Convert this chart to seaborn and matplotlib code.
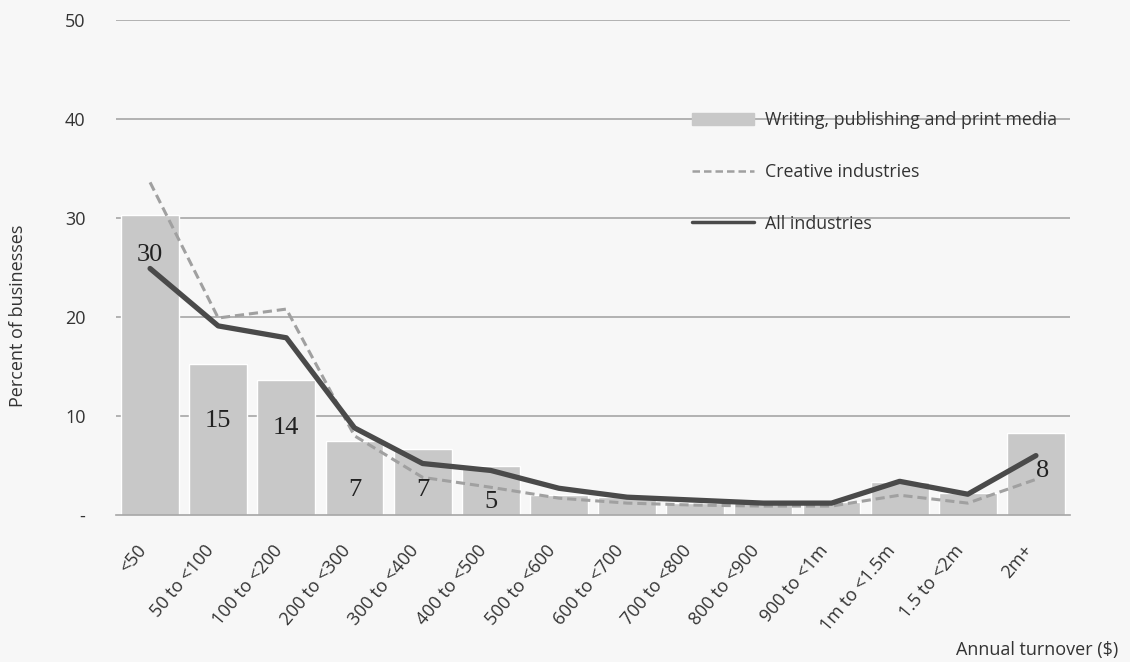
import matplotlib
matplotlib.use("Agg")
import matplotlib.pyplot as plt
import matplotlib.patches as mpatches
import matplotlib.lines as mlines
import matplotlib.transforms as mtransforms
import numpy as np
import pandas as pd
import seaborn as sns

#%% data
categories = ["<50", "50 to <100", "100 to <200", "200 to <300", "300 to <400",
              "400 to <500", "500 to <600", "600 to <700", "700 to <800",
              "800 to <900", "900 to <1m", "1m to <1.5m", "1.5 to <2m", "2m+"]
writing = [30.3, 15.3, 13.6, 7.5, 6.7, 4.9, 2.0, 1.8, 1.2, 1.2, 1.3, 3.3, 2.2, 8.3]
creative = [33.6, 19.9, 20.8, 8.0, 3.8, 2.8, 1.7, 1.2, 1.0, 0.9, 0.9, 2.0, 1.2, 3.6]
all_ind = [24.9, 19.1, 17.9, 8.8, 5.2, 4.5, 2.7, 1.8, 1.5, 1.2, 1.2, 3.4, 2.1, 6.0]

# data labels shown on the bars (index, text)
label_idx = [0, 1, 2, 3, 4, 5, 13]
label_txt = ["30", "15", "14", "7", "7", "5", "8"]
label_y = [26.3, 9.5, 8.8, 2.5, 2.5, 1.3, 4.4]
label_dx = [0, 0, 0, 0, 0, 0, 0.1]

df = pd.DataFrame({"cat": categories, "writing": writing,
                   "creative": creative, "all": all_ind})

#%% plot
sns.set_style("white")
plt.rcParams["font.family"] = ["Open Sans", "DejaVu Sans"]
bg = "#f7f7f7"
txt = "#333333"

fig = plt.figure(figsize=(11.3, 6.62), dpi=100, facecolor=bg)
ax = fig.add_axes([116 / 1130, 1 - 515 / 662, (1070 - 116) / 1130, (515 - 20) / 662])
ax.set_facecolor(bg)

sns.barplot(data=df, x="cat", y="writing", color="#c8c8c8", saturation=1,
            width=0.85, ax=ax, zorder=2)
sns.lineplot(x=np.arange(len(categories)), y=df["creative"], ax=ax,
             color="#a0a0a0", lw=2.2, zorder=3)
ax.lines[-1].set_dashes((3, 1.6))
sns.lineplot(x=np.arange(len(categories)), y=df["all"], ax=ax,
             color="#4a4a4a", lw=3.8, zorder=4)
ax.lines[-1].set_solid_capstyle("round")

for i, t, y, dx in zip(label_idx, label_txt, label_y, label_dx):
    ax.text(i + dx, y, t, ha="center", va="center", fontsize=19,
            family="Liberation Serif", color="#222222", zorder=5)

ax.set_xlim(-0.5, 13.5)
ax.set_ylim(0, 50)
ax.set_yticks([0, 10, 20, 30, 40, 50])
ax.set_yticklabels(["-", "10", "20", "30", "40", "50"])
for y in [10, 20, 30, 40, 50]:
    ax.axhline(y, color="#a6a6a6", lw=1.2, zorder=1)

for s in ["top", "right", "left"]:
    ax.spines[s].set_visible(False)
ax.spines["bottom"].set_color("#a6a6a6")
ax.spines["bottom"].set_linewidth(1.2)
ax.spines["bottom"].set_zorder(6)

ax.tick_params(axis="y", length=5, width=1.2, color="#a6a6a6", pad=17,
               labelsize=13, labelcolor=txt)
ax.tick_params(axis="x", length=0, pad=22, labelsize=13, labelcolor=txt)
shift = mtransforms.ScaledTranslation(-0.07, -0.02, fig.dpi_scale_trans)
for lab in ax.get_xticklabels():
    lab.set_rotation(50)
    lab.set_ha("right")
    lab.set_va("center")
    lab.set_rotation_mode("anchor")
    lab.set_transform(lab.get_transform() + shift)
ax.set_xlabel("")
ax.set_ylabel("")

fig.text(18 / 1130, 1 - 316 / 662, "Percent of businesses", rotation=90,
         ha="center", va="center", fontsize=13, color=txt)
fig.text(1118 / 1130, 1 - 650 / 662, "Annual turnover ($)", ha="right",
         va="center", fontsize=13, color=txt)

handles = [mpatches.Patch(color="#c8c8c8"),
           mlines.Line2D([], [], color="#a0a0a0", lw=1.8, dashes=(3, 1.6)),
           mlines.Line2D([], [], color="#4a4a4a", lw=2.5)]
labels = ["Writing, publishing and print media", "Creative industries", "All industries"]
leg = fig.legend(handles, labels, loc="upper left",
                 bbox_to_anchor=(676 / 1130, 1 - 95 / 662), frameon=False,
                 fontsize=12.8, handlelength=3.5, handletextpad=0.6,
                 labelspacing=1.9, labelcolor=txt)

fig.savefig("out.png", dpi=100, facecolor=bg)
